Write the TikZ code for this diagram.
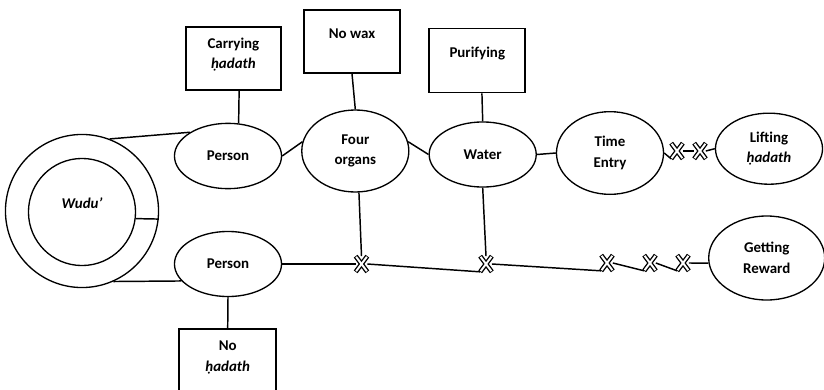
\documentclass[tikz,border=0pt]{standalone}
\usepackage{fontspec}
\setmainfont{Carlito}
\usetikzlibrary{shapes.geometric}

\newcommand{\hdth}{\textit{ḥadath}}

\tikzset{every picture/.style={line width=0.75pt}}
\tikzset{
  oval/.style={draw, ellipse, line width=1pt, inner sep=0pt, minimum width=80.3pt, minimum height=49pt, font=\bfseries\fontsize{11.2}{15.4}\selectfont, align=center},
  ring/.style={draw, circle, line width=1pt, inner sep=0pt},
  box/.style={draw, rectangle, line width=1.4pt, inner sep=0pt, minimum width=72pt, minimum height=47.5pt},
  boxtxt/.style={inner sep=0pt, font=\bfseries\fontsize{11.2}{15.4}\selectfont, align=center},
  xmark/.style={inner sep=0pt, minimum width=8pt, minimum height=11pt},
  link/.style={line width=1.1pt},
}

\begin{document}
\begin{tikzpicture}[x=0.75pt,y=0.75pt,yscale=-1,xscale=1]
\clip (0,0) rectangle (824,389);

%Shape: Circle [wudu]
\node [ring, minimum size=114.8pt] (wudu) at (82,211) {};
\node [ring, minimum size=80.3pt, font=\bfseries\itshape\fontsize{11.2}{15.4}\selectfont, text height=7pt, text depth=12pt] (wuduin) at (82,212) {Wudu’};

%Shape: Ellipse
\node [oval] (person1) at (228,156) {Person};
\node [oval, minimum height=48.8pt] (person2) at (228,264) {Person};
\node [oval, minimum height=61.5pt] (organs) at (355.3,151) {Four\\organs};
\node [oval, minimum height=48.8pt] (water) at (482.7,154.5) {Water};
\node [oval, minimum height=62pt] (time) at (610,153) {Time\\Entry};
\node [oval, minimum height=53.3pt] (lift) at (769,148.7) {Lifting\\\hdth};
\node [oval, minimum width=87pt, minimum height=63pt] (reward) at (766.7,258) {Getting\\Reward};

%Shape: Rectangle
\node [box, minimum width=71.3pt, minimum height=47.3pt] (carry) at (233.4,58.3) {};
\node [box, minimum height=47.3pt] (nowax) at (352,41.3) {};
\node [box, minimum height=48pt] (purif) at (477.3,60.5) {};
\node [box, minimum width=72.5pt, minimum height=47.3pt] (nohad) at (227.7,360.5) {};

% Text Node
\node [boxtxt] (carrytxt) at (233.4,54.7) {Carrying\\\hdth};
% Text Node
\node [boxtxt] (nowaxtxt) at (352,34) {No wax};
% Text Node
\node [boxtxt] (puriftxt) at (477.3,53.3) {Purifying};
% Text Node
\node [boxtxt] (nohadtxt) at (227.7,357.3) {No\\\hdth};

%Shape: Cross
\node [xmark] (xa) at (677,151) {};
\node [xmark] (xb) at (700,151) {};
\node [xmark] (xc) at (361.5,264) {};
\node [xmark] (xd) at (486,264) {};
\node [xmark] (xe) at (607,263) {};
\node [xmark] (xf) at (650,263) {};
\node [xmark] (xg) at (683,263) {};

%Straight Lines
\draw [link] (wudu.69) -- (person1.148);
\draw [link] (wudu.-66) -- (person2.200);
\draw [link] (wuduin.-7) -- (wudu.-6);
\draw [link] (carry.-80) -- (person1.72);
\draw [link] (nowax.south) -- (organs.north);
\draw [link] (purif.-82) -- (water.north);
\draw [link] (nohad.north) -- (person2.south);
\draw [link] (person1.east) -- (organs.170);
\draw [link] (organs.10) -- (water.west);
\draw [link] (water.east) -- (time.west);
\draw [link] (time.east) -- (xa.south west);
\draw [link] (xa.east) -- (xb.west);
\draw [link] (xb.east) -- (lift.west);
\draw [link] (organs.-85) -- (xc.north);
\draw [link] (water.south) -- (xd.north);
\draw [link] (person2.east) -- (xc.west);
\draw [link] (xc.east) -- (xd.south west);
\draw [link] (xd.east) -- (xe.south west);
\draw [link] (xe.east) -- (xf.south west);
\draw [link] (xf.east) -- (xg.south west);
\draw [link] (xg.east) -- (reward.185);

%Cross marks
\foreach \n in {xa,xb,xc,xd,xe,xf,xg} {
  \draw [line width=3.5pt] (\n.south west) -- (\n.north east) (\n.north west) -- (\n.south east);
  \draw [white, line width=1.5pt, shorten <=0.6pt, shorten >=0.6pt] (\n.south west) -- (\n.north east);
  \draw [white, line width=1.5pt, shorten <=0.6pt, shorten >=0.6pt] (\n.north west) -- (\n.south east);
}

\end{tikzpicture}
\end{document}
